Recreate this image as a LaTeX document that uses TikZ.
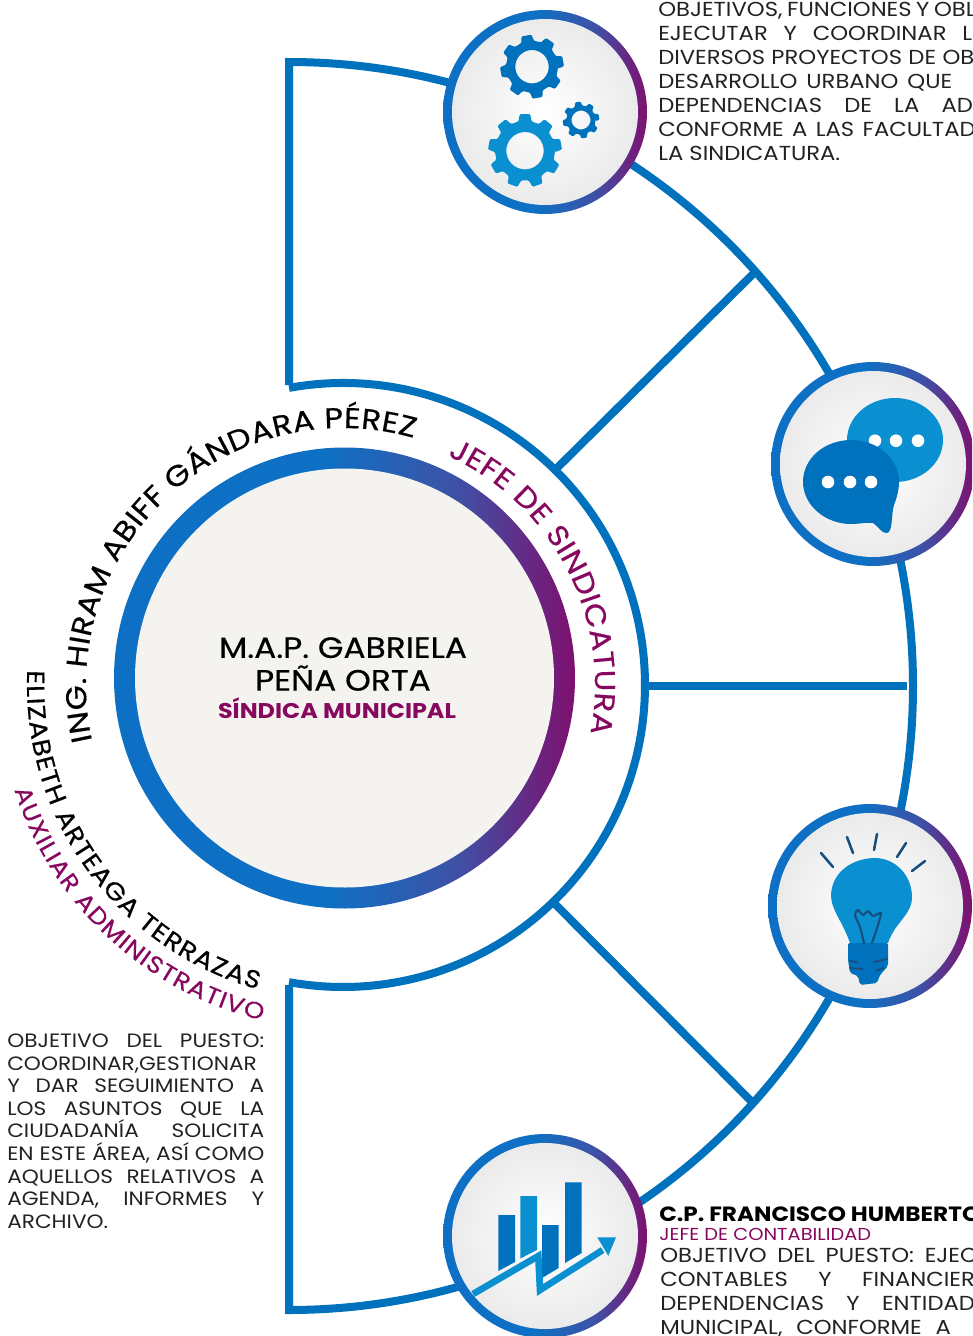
\documentclass[tikz,border=0pt]{standalone}
\usepackage{xcolor}
\usepackage{fontspec}
\setmainfont[FakeStretch=1.12]{Poppins}
\newfontfamily\midfont[FakeStretch=1.12,FakeBold=0.5]{Poppins}
\usetikzlibrary{decorations.text,positioning}

\definecolor{linkblue}{HTML}{0071BC}
\definecolor{ringblue}{HTML}{0E70C4}
\definecolor{ringmid}{HTML}{3D52A6}
\definecolor{ringpurple}{HTML}{7F0F6E}
\definecolor{lightblue}{HTML}{0A8FD1}
\definecolor{navyline}{HTML}{164F7E}
\definecolor{rolepurple}{HTML}{87085F}
\definecolor{paper}{HTML}{F5F3EF}
\definecolor{bodytext}{HTML}{222222}

\pgfdeclarehorizontalshading{ringfade}{100bp}{color(0bp)=(ringblue);color(25bp)=(ringblue);color(48bp)=(ringblue);color(62bp)=(ringmid);color(75bp)=(ringpurple);color(100bp)=(ringpurple)}

\newcommand{\fitline}[2]{\makebox[#1][s]{#2}}
\newcommand{\namefont}{\midfont\fontsize{21.5}{21.5}\selectfont\color{black}}
\newcommand{\subfont}{\midfont\fontsize{18.5}{18.5}\selectfont\color{black}}
\newcommand{\rolefont}{\midfont\fontsize{21.5}{21.5}\selectfont\color{rolepurple}}
\newcommand{\auxfont}{\midfont\fontsize{17.5}{17.5}\selectfont\color{rolepurple}}

% c, outer radius, root radius, hole radius, teeth, colour
\newcommand{\gearicon}[6]{
	\pgfmathsetmacro{\st}{360/#5}
	\begin{scope}[shift={(#1)},rotate=10]
		\fill[#6,even odd rule,rounded corners=0.8pt] (0,0) circle (#4)
			(-0.32*\st:#3) foreach \k in {1,...,#5} {
				-- ({(\k-1)*\st-0.32*\st}:#3) -- ({(\k-1)*\st-0.2*\st}:#2) -- ({(\k-1)*\st+0.2*\st}:#2) -- ({(\k-1)*\st+0.32*\st}:#3)
			} -- cycle;
	\end{scope}
}

\tikzset{
	link/.style={line width=6pt,draw=linkblue},
	ray/.style={line width=1.9pt,draw=navyline,line cap=round},
	para/.style={anchor=north west,inner sep=0pt,align=left,text=bodytext,font=\fontsize{15.2}{18}\selectfont},
	dot/.style={fill=white}
}

\begin{document}
\begin{tikzpicture}[x=0.75pt,y=0.75pt]
	\useasboundingbox (0,0) rectangle (972,-1336);
	\clip (0,0) rectangle (972,-1336);
	\coordinate (inner) at (343,-685);
	\coordinate (main) at (344.5,-678);
	\coordinate (gearc) at (545,-112);
	\coordinate (chatc) at (873,-464);
	\coordinate (bulbc) at (870,-906);
	\coordinate (chartc) at (545,-1236);
	\coordinate (topa) at (289,-385);
	\coordinate (topb) at (289,-62);
	\coordinate (lowa) at (289,-985);
	\coordinate (spokea) at (555,-470);
	\coordinate (spokeb) at (755,-272);
	\coordinate (spokec) at (645,-686);
	\coordinate (spoked) at (907,-686);
	\coordinate (spokee) at (553,-902);
	\coordinate (spokef) at (755,-1105);
	% frame and spokes
	\draw[link] (topa) -- (topb) arc (90:-90:624) -- (lowa);
	\draw[link] (inner) ++(100.3:302) arc (100.3:-100.3:302);
	\draw[link] (spokea) -- (spokeb);
	\draw[link] (spokec) -- (spoked);
	\draw[link] (spokee) -- (spokef);
	% main disc
	\shade[shading=ringfade] (main) circle (230.5);
	\fill[paper] (main) circle (209.5);
	\node[font=\midfont\fontsize{22}{24.5}\selectfont,align=center] (boss) at (343,-664) {M.A.P. GABRIELA\\PEÑA ORTA};
	\node[font=\fontsize{16}{16}\selectfont\bfseries,text=rolepurple] (bossrole) at (337,-708) {SÍNDICA MUNICIPAL};
	% icon discs
	\foreach \c in {gearc,chatc,bulbc,chartc} {
		\shade[shading=ringfade] (\c) circle (102);
		\shade[inner color=white,outer color=black!8] (\c) circle (93);
	}
	% gears
	\gearicon{532,-66.7}{32}{26}{16.7}{8}{linkblue}
	\gearicon{581,-120}{18.5}{14.5}{9.5}{8}{linkblue}
	\gearicon{525,-150.7}{37}{30}{18.7}{9}{lightblue}
	% chat
	\fill[lightblue] (895,-440) ellipse (48 and 42);
	\foreach \x in {875,896,918} \fill[dot] (\x,-440.7) circle (6.3);
	\fill[linkblue] (803,-482) .. controls (803,-505) and (825,-524) .. (851,-524) .. controls (860,-524) and (868,-522) .. (873,-523) .. controls (878,-526) and (882,-534) .. (887,-533) .. controls (893,-532) and (891,-515) .. (894,-505) .. controls (897,-497) and (899,-490) .. (899,-482) .. controls (899,-458) and (877,-440) .. (851,-440) .. controls (825,-440) and (803,-458) .. (803,-482) -- cycle;
	\foreach \x in {828,850,871} \fill[dot] (\x,-482) circle (6.3);
	% bulb
	\fill[lightblue] (850,-943) .. controls (842,-920) and (831,-910) .. (831,-895) .. controls (832,-870) and (855,-858) .. (875,-858) .. controls (895,-858) and (912,-875) .. (912,-897) .. controls (912,-915) and (895,-922) .. (888,-943) -- cycle;
	\fill[linkblue,rounded corners=1.5pt] (848,-943) -- (888,-943) -- (888,-966) -- (880,-975) -- (877,-983) -- (860,-985) -- (858,-976) -- (850,-973) -- (848,-960) -- cycle;
	\draw[ray,line join=round,line width=1.6pt] plot[smooth,tension=0.4] coordinates {(864,-943) (860,-927) (855,-915) (858,-910) (863,-915) (868,-911) (873,-916) (881,-913) (877,-928) (872,-943)};
	\foreach \a/\b/\e/\f in {821/853/833/867,847/837/853/853,877/834/874/850,906/843/897/857,925/861/912/871} \draw[ray] (\a,-\b) -- (\e,-\f);
	\foreach \a/\b/\e/\f in {850/961/857/962,874/962/887/959,850/968/863/969,876/971/883/968} \draw[ray,line width=1.4pt] (\a,-\b) -- (\e,-\f);
	% chart
	\fill[linkblue] (498.3,-1215) -- (515,-1215) -- (515,-1262) -- (498.3,-1271) -- cycle;
	\fill[lightblue] (520.3,-1196) -- (537,-1196) -- (537,-1250) -- (520.3,-1258.5) -- cycle;
	\fill[linkblue] (542,-1225) -- (558.7,-1225) -- (558.7,-1268) -- (542,-1278) -- cycle;
	\fill[linkblue] (565,-1182.3) -- (581.7,-1182.3) -- (581.7,-1253) -- (565,-1263) -- cycle;
	\draw[line width=5pt,draw=lightblue] (473,-1294) -- (538.3,-1256) -- (540,-1290) -- (602.7,-1250);
	\fill[lightblue] (597.3,-1237.3) -- (616,-1237.3) -- (608.3,-1255.7) -- cycle;
	% curved names
	\path[decorate,decoration={text along path,text align=fit to path,text={|\namefont|ING. HIRAM ABIFF GÁNDARA PÉREZ}}] (inner) ++(192.5:257) arc (192.5:74:257);
	\path[decorate,decoration={text along path,text align=fit to path,text={|\rolefont|JEFE DE SINDICATURA}}] (inner) ++(65.5:252) arc (65.5:-11:252);
	\path[decorate,decoration={text along path,text align=fit to path,text={|\subfont|ELIZABETH ARTEAGA TERRAZAS}}] (inner) ++(177.3:316) arc (177.3:254.3:316);
	\path[decorate,decoration={text along path,text align=fit to path,text={|\auxfont|AUXILIAR ADMINISTRATIVO}}] (inner) ++(197.7:345) arc (197.7:256.4:345);
	% paragraphs
	\node[para,font=\fontsize{14.5}{16.95}\selectfont] (auxtext) at (7,-1033.5) {\fitline{192.8pt}{OBJETIVO DEL PUESTO:}\\COORDINAR,GESTIONAR\\\fitline{192.8pt}{Y DAR SEGUIMIENTO A}\\\fitline{192.8pt}{LOS ASUNTOS QUE LA}\\\fitline{192.8pt}{CIUDADANÍA SOLICITA}\\\fitline{192.8pt}{EN ESTE ÁREA, ASÍ COMO}\\\fitline{192.8pt}{AQUELLOS RELATIVOS A}\\\fitline{192.8pt}{AGENDA, INFORMES Y}\\ARCHIVO.};
	\node[para] (goaltext) at (658,-1.5) {\fitline{238pt}{OBJETIVOS, FUNCIONES Y OBL}\\\fitline{235.5pt}{EJECUTAR Y COORDINAR L}\\\fitline{237pt}{DIVERSOS PROYECTOS DE OB}\\\fitline{220.5pt}{DESARROLLO URBANO QUE}\\\fitline{236pt}{DEPENDENCIAS DE LA AD}\\\fitline{238pt}{CONFORME A LAS FACULTAD}\\LA SINDICATURA.};
	\node[para,font=\fontsize{15.5}{15.5}\selectfont\bfseries,text=black] (chiefname) at (659,-1207) {C.P. FRANCISCO HUMBERTO};
	\node[para,font=\fontsize{13}{13}\selectfont,text=rolepurple] (chiefrole) at (659,-1228) {JEFE DE CONTABILIDAD};
	\node[para] (chieftext) at (660,-1247.5) {\fitline{238pt}{OBJETIVO DEL PUESTO: EJEC}\\\fitline{236pt}{CONTABLES Y FINANCIER}\\\fitline{236pt}{DEPENDENCIAS Y ENTIDAD}\\\fitline{218pt}{MUNICIPAL, CONFORME A}};
\end{tikzpicture}
\end{document}
